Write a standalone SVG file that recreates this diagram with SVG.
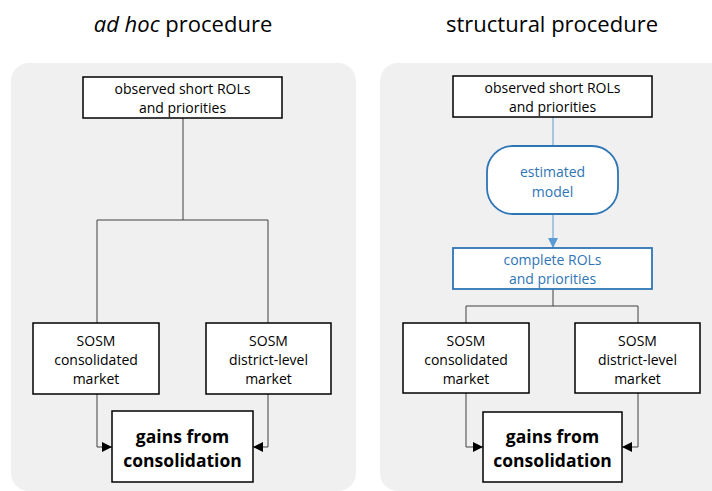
<svg xmlns="http://www.w3.org/2000/svg" width="712" height="491" viewBox="0 0 712 491">
<defs>
<style>
.panel{fill:#f0f0f0;stroke:none}
.box{fill:#fff;stroke:#000;stroke-width:1.5}
.bbox{fill:#fff;stroke:#2e75b6;stroke-width:1.8}
.t{font-family:"Open Sans",sans-serif;font-size:14px;fill:#000;text-anchor:middle}
.tb{font-family:"Open Sans",sans-serif;font-size:14px;fill:#2e75b6;text-anchor:middle}
.tg{font-family:"Open Sans",sans-serif;font-size:17.5px;font-weight:bold;fill:#000;text-anchor:middle}
.title{font-family:"Open Sans",sans-serif;font-size:22px;fill:#000;text-anchor:middle}
.c{fill:none;stroke:#404040;stroke-width:1}
.cb{fill:none;stroke:#5b9bd5;stroke-width:1}
</style>
<marker id="ah" viewBox="0 0 10 10" refX="10" refY="5" markerWidth="10" markerHeight="10" markerUnits="userSpaceOnUse" orient="auto">
<path d="M0,0 L10,5 L0,10 z" fill="#000"/>
</marker>
<marker id="ahb" viewBox="0 0 10 10" refX="10" refY="5" markerWidth="10" markerHeight="10" markerUnits="userSpaceOnUse" orient="auto">
<path d="M0,0 L10,5 L0,10 z" fill="#5b9bd5"/>
</marker>
</defs>
<rect class="panel" x="11" y="63" width="345" height="428" rx="18"/>
<rect class="panel" x="380" y="63" width="350" height="428" rx="18"/>
<text class="title" x="183" y="32"><tspan font-style="italic">ad hoc</tspan> procedure</text>
<text class="title" x="552" y="32">structural procedure</text>
<g id="connectors">
<path class="c" d="M183,118 V220 M97,220 H268 M97,220 V323 M268,220 V323"/>
<path class="c" d="M97,394 V447 H112" marker-end="url(#ah)"/>
<path class="c" d="M268,394 V447 H253" marker-end="url(#ah)"/>
<path class="cb" d="M553,117 V146"/>
<path class="cb" d="M553,214 V248" marker-end="url(#ahb)"/>
<path class="c" d="M553,289 V306 M466,306 H638 M466,306 V323 M638,306 V323"/>
<path class="c" d="M466,393 V447 H483" marker-end="url(#ah)"/>
<path class="c" d="M638,393 V447 H622" marker-end="url(#ah)"/>
</g>
<g id="adhoc-observed">
<rect class="box" x="83" y="77" width="199" height="41"/>
<text class="t" x="182.5" y="94">observed short ROLs</text>
<text class="t" x="182.5" y="113">and priorities</text>
</g>
<g id="adhoc-consolidated">
<rect class="box" x="33" y="323" width="126" height="71"/>
<text class="t" x="96" y="346">SOSM</text>
<text class="t" x="96" y="365">consolidated</text>
<text class="t" x="96" y="384">market</text>
</g>
<g id="adhoc-district">
<rect class="box" x="206" y="323" width="125" height="71"/>
<text class="t" x="268.5" y="346">SOSM</text>
<text class="t" x="268.5" y="365">district-level</text>
<text class="t" x="268.5" y="384">market</text>
</g>
<g id="adhoc-gains">
<rect class="box" x="112" y="411" width="141" height="71"/>
<text class="tg" x="182.5" y="443">gains from</text>
<text class="tg" x="182.5" y="467">consolidation</text>
</g>
<g id="struct-observed">
<rect class="box" x="453" y="76" width="199" height="41"/>
<text class="t" x="552.5" y="93">observed short ROLs</text>
<text class="t" x="552.5" y="112">and priorities</text>
</g>
<g id="struct-model">
<rect class="bbox" x="487" y="146" width="131" height="68" rx="26"/>
<text class="tb" x="552.5" y="177">estimated</text>
<text class="tb" x="552.5" y="197">model</text>
</g>
<g id="struct-complete">
<rect class="bbox" x="453" y="248" width="199" height="41"/>
<text class="tb" x="552.5" y="265">complete ROLs</text>
<text class="tb" x="552.5" y="284">and priorities</text>
</g>
<g id="struct-consolidated">
<rect class="box" x="403" y="323" width="126" height="70"/>
<text class="t" x="466" y="346">SOSM</text>
<text class="t" x="466" y="365">consolidated</text>
<text class="t" x="466" y="384">market</text>
</g>
<g id="struct-district">
<rect class="box" x="575" y="323" width="125" height="70"/>
<text class="t" x="637.5" y="346">SOSM</text>
<text class="t" x="637.5" y="365">district-level</text>
<text class="t" x="637.5" y="384">market</text>
</g>
<g id="struct-gains">
<rect class="box" x="483" y="412" width="139" height="70"/>
<text class="tg" x="552.5" y="443">gains from</text>
<text class="tg" x="552.5" y="467">consolidation</text>
</g>
</svg>
